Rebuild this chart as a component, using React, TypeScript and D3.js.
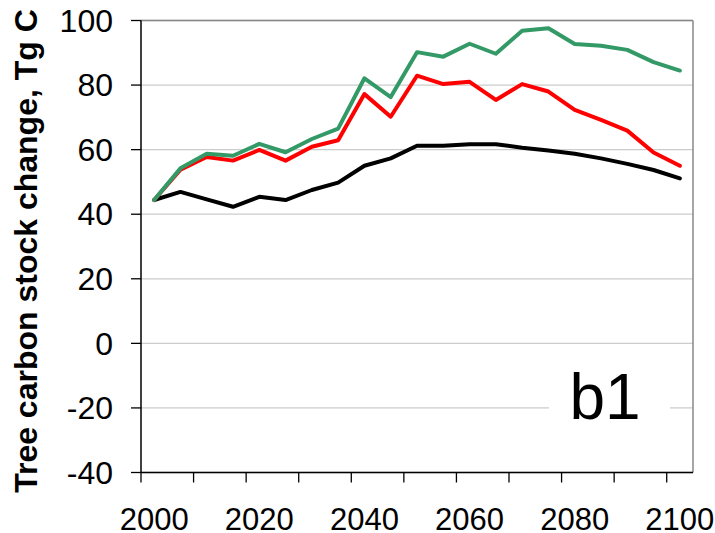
import React from 'react';
import * as d3 from 'd3';

// chart size
const svgWidth = 715;
const svgHeight = 533;
const plotLeft = 141;
const plotRight = 693;
const plotTop = 20.5;
const plotBottom = 472.5;
const fontFamily = '"Liberation Sans", Arial, sans-serif';

// data
const years = [2000, 2005, 2010, 2015, 2020, 2025, 2030, 2035, 2040, 2045, 2050,
  2055, 2060, 2065, 2070, 2075, 2080, 2085, 2090, 2095, 2100];
const blackSeries = [44.4, 46.9, 44.6, 42.3, 45.4, 44.4, 47.5, 49.8, 55.0, 57.3, 61.2,
  61.2, 61.7, 61.7, 60.6, 59.7, 58.7, 57.3, 55.6, 53.7, 51.1];
const redSeries = [44.4, 53.8, 57.7, 56.6, 59.9, 56.6, 60.9, 62.9, 77.2, 70.2, 82.9,
  80.3, 81.0, 75.4, 80.3, 78.0, 72.3, 69.2, 65.9, 59.1, 55.0];
const greenSeries = [44.4, 54.2, 58.7, 58.1, 61.8, 59.2, 63.3, 66.5, 82.1, 76.3, 90.2,
  88.8, 92.8, 89.7, 96.8, 97.6, 92.7, 92.2, 90.9, 87.1, 84.5];
const yTicks = [-40, -20, 0, 20, 40, 60, 80, 100];
const yTitle = 'Tree carbon stock change, Tg C';
const panelLabel = 'b1';

const series = [
  { name: 'black', values: blackSeries, color: '#000000' },
  { name: 'red', values: redSeries, color: '#ff0000' },
  { name: 'green', values: greenSeries, color: '#339966' },
];

// category axis like Excel line chart
const xScale = d3.scalePoint<number>()
  .domain(years)
  .range([plotLeft, plotRight])
  .padding(0.5);
const step = xScale.step();

const yScale = d3.scaleLinear()
  .domain([-40, 100])
  .range([plotBottom, plotTop]);

const lineGen = d3.line<number>()
  .x((d, i) => xScale(years[i]) as number)
  .y(d => yScale(d));

export default function App() {
  // tick marks between every second category
  const xTickPos = years
    .map((yr, i) => ({ yr, i }))
    .filter(d => d.i % 2 === 0)
    .map(d => (xScale(d.yr) as number) - step / 2);

  return (
    <svg width={svgWidth} height={svgHeight}
      style={{ position: 'absolute', left: 0, top: 0, background: '#fff' }}>
      {/* gridlines */}
      {yTicks.map(t => (
        <line key={'g' + t} x1={plotLeft} x2={plotRight} y1={yScale(t)} y2={yScale(t)}
          stroke="#cccccc" strokeWidth={1.3} />
      ))}
      {/* panel label box masks the grid */}
      <rect x={549} y={362} width={121} height={80} fill="#fff" />
      <text x={605} y={419} textAnchor="middle" fontFamily={fontFamily} fontSize={64}>
        {panelLabel}
      </text>

      {/* plot border top/right */}
      <line x1={plotLeft} x2={plotRight} y1={plotTop} y2={plotTop} stroke="#888" strokeWidth={1.5} />
      <line x1={plotRight} x2={plotRight} y1={plotTop} y2={plotBottom} stroke="#888" strokeWidth={1.5} />

      {/* lines */}
      {series.map(s => (
        <path key={s.name} d={lineGen(s.values) || ''} fill="none" stroke={s.color}
          strokeWidth={4} strokeLinejoin="round" strokeLinecap="round" />
      ))}

      {/* y axis */}
      <line x1={plotLeft} x2={plotLeft} y1={plotTop} y2={plotBottom} stroke="#000" strokeWidth={1.5} />
      {yTicks.map(t => (
        <g key={'y' + t}>
          <line x1={plotLeft - 10} x2={plotLeft} y1={yScale(t)} y2={yScale(t)} stroke="#000" strokeWidth={1.3} />
          <text x={113} y={yScale(t)} dy="0.35em" textAnchor="end"
            fontFamily={fontFamily} fontSize={32}>{t}</text>
        </g>
      ))}

      {/* x axis */}
      <line x1={plotLeft} x2={plotRight} y1={plotBottom} y2={plotBottom} stroke="#000" strokeWidth={1.5} />
      {xTickPos.map((x, i) => (
        <line key={'xt' + i} x1={x} x2={x} y1={plotBottom} y2={plotBottom + 10} stroke="#000" strokeWidth={1.3} />
      ))}
      {years.filter((yr, i) => i % 4 === 0).map(yr => (
        <text key={'xl' + yr} x={xScale(yr)} y={530} textAnchor="middle"
          fontFamily={fontFamily} fontSize={31}>{yr}</text>
      ))}

      {/* y title */}
      <text transform="translate(37,251) rotate(-90)" textAnchor="middle"
        fontFamily={fontFamily} fontSize={32} fontWeight="bold">{yTitle}</text>
    </svg>
  );
}
